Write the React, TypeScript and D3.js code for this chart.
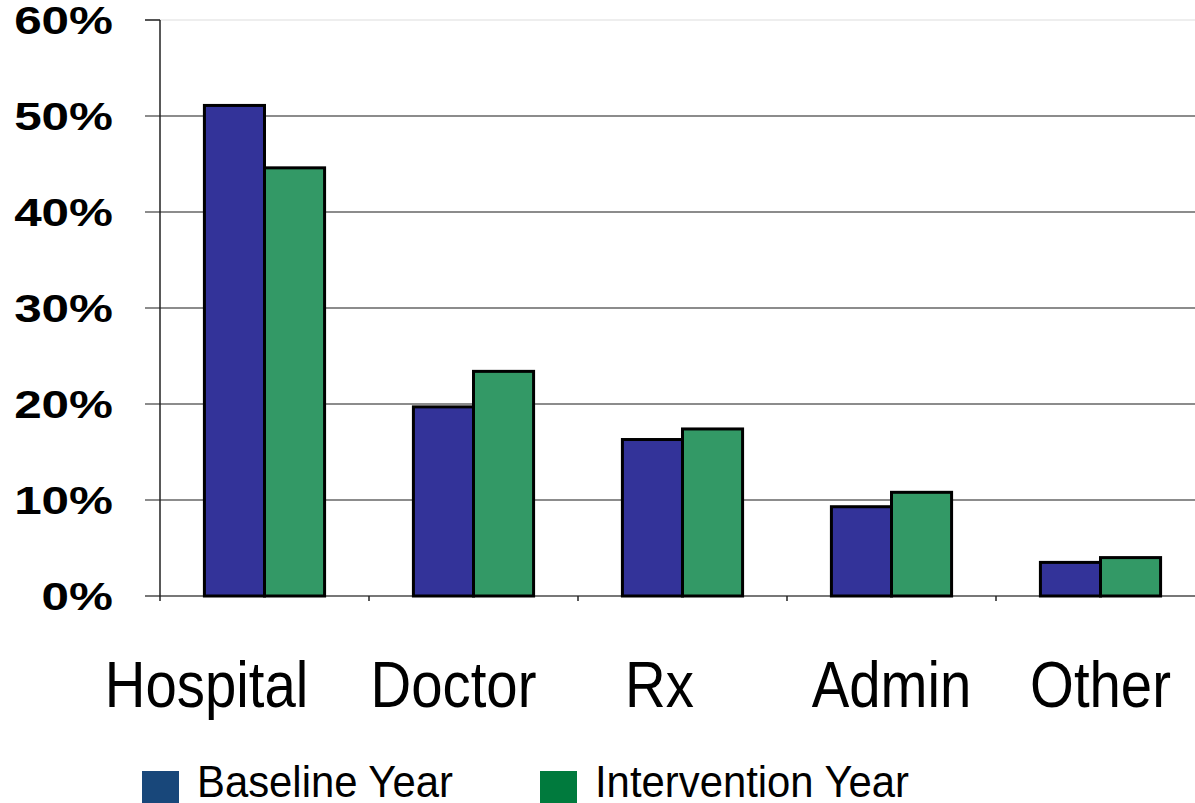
import React from "react";
import * as d3 from "d3";

// Share of spending by category, baseline vs intervention year (percent)
const categories = ["Hospital", "Doctor", "Rx", "Admin", "Other"];
const baselineValues = [51.1, 19.7, 16.3, 9.3, 3.5];
const interventionValues = [44.6, 23.4, 17.4, 10.8, 4.0];
const yTicks = [0, 10, 20, 30, 40, 50, 60];
const seriesNames = ["Baseline Year", "Intervention Year"];

const W = 1195;
const H = 803;
const plot = { left: 160, right: 1205, top: 20, bottom: 596 };

const barFill = ["#333399", "#339966"];
const legendFill = ["#18477a", "#007a3d"];
// small horizontal nudges for category captions
const captionShift = [-58, -20, -23, 0, 0];

const sans = "'Liberation Sans', Arial, Helvetica, sans-serif";

export default function App() {
  const x = d3
    .scaleBand<string>()
    .domain(categories)
    .range([plot.left, plot.right])
    .paddingInner(0)
    .paddingOuter(0);
  const y = d3.scaleLinear().domain([0, 60]).range([plot.bottom, plot.top]);
  const groupW = x.bandwidth() * 0.575;
  const inner = d3
    .scaleBand<number>()
    .domain([0, 1])
    .range([0, groupW]);
  const series = [baselineValues, interventionValues];

  return (
    <svg
      width={W}
      height={H}
      style={{ position: "absolute", left: 0, top: 0, background: "#fff" }}
    >
      {/* grid lines */}
      {yTicks.map((t) => (
        <line
          key={"g" + t}
          x1={plot.left - 15}
          x2={W}
          y1={y(t)}
          y2={y(t)}
          stroke={t === 60 ? "#e8e8e8" : t === 0 ? "#777" : "#666"}
          strokeWidth={t === 0 ? 2 : 1.5}
        />
      ))}
      {/* tick stub for the top gridline */}
      <line x1={plot.left - 15} x2={plot.left} y1={y(60)} y2={y(60)} stroke="#222" strokeWidth={1.5} />
      {/* y axis */}
      <line x1={plot.left} x2={plot.left} y1={y(60)} y2={y(0) + 5} stroke="#222" strokeWidth={1.5} />
      {/* category ticks */}
      {categories.slice(1).map((c) => (
        <line
          key={"t" + c}
          x1={x(c)!}
          x2={x(c)!}
          y1={y(0)}
          y2={y(0) + 5}
          stroke="#222"
          strokeWidth={1.5}
        />
      ))}
      {/* y tick labels, drawn wide */}
      {yTicks.map((t) => (
        <text
          key={"l" + t}
          transform={`translate(113,${y(t) + 14}) scale(1.3,1)`}
          textAnchor="end"
          fontFamily={sans}
          fontWeight="bold"
          fontSize={38}
          fill="#000"
        >
          {t}%
        </text>
      ))}
      {/* bars */}
      {categories.map((c, i) => {
        const x0 = x(c)! + (x.bandwidth() - groupW) / 2;
        return series.map((vals, s) => (
          <rect
            key={c + s}
            x={x0 + inner(s)!}
            y={y(vals[i])}
            width={inner.bandwidth()}
            height={y(0) - y(vals[i])}
            fill={barFill[s]}
            stroke="#000"
            strokeWidth={3}
          />
        ));
      })}
      {/* category captions, condensed */}
      {categories.map((c, i) => (
        <text
          key={"c" + c}
          transform={`translate(${x(c)! + x.bandwidth() / 2 + captionShift[i]},707) scale(0.88,1)`}
          textAnchor="middle"
          fontFamily={sans}
          fontSize={64}
          fill="#000"
        >
          {c}
        </text>
      ))}
      {/* legend */}
      {seriesNames.map((name, s) => {
        const lx = s === 0 ? 142 : 540;
        return (
          <g key={name}>
            <rect x={lx} y={771} width={37} height={33} fill={legendFill[s]} />
            <text
              transform={`translate(${lx + 55},797) scale(0.93,1)`}
              fontFamily={sans}
              fontSize={45}
              fill="#000"
            >
              {name}
            </text>
          </g>
        );
      })}
    </svg>
  );
}
